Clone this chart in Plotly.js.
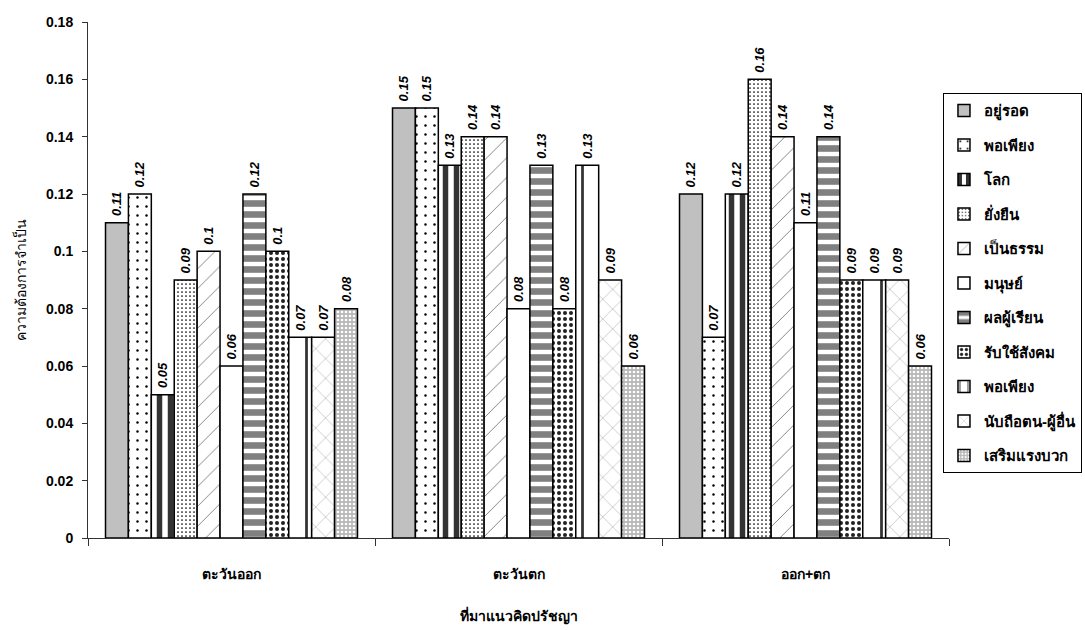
<!DOCTYPE html>
<html>
<head>
<meta charset="utf-8">
<script src="https://cdn.plot.ly/plotly-3.0.1.min.js"></script>
<style>html,body{margin:0;padding:0;background:#fff;}#chart{width:1085px;height:630px;}</style>
</head>
<body>
<div id="chart"></div>
<script>
const categories = ['ตะวันออก', 'ตะวันตก', 'ออก+ตก'];
const seriesNames = ['อยู่รอด', 'พอเพียง', 'โลก', 'ยั่งยืน', 'เป็นธรรม', 'มนุษย์', 'ผลผู้เรียน', 'รับใช้สังคม', 'พอเพียง', 'นับถือตน-ผู้อื่น', 'เสริมแรงบวก'];
const vSurvive   = [0.11, 0.15, 0.12];
const vSuff1     = [0.12, 0.15, 0.07];
const vWorld     = [0.05, 0.13, 0.12];
const vSustain   = [0.09, 0.14, 0.16];
const vFair      = [0.1, 0.14, 0.14];
const vHuman     = [0.06, 0.08, 0.11];
const vLearner   = [0.12, 0.13, 0.14];
const vService   = [0.1, 0.08, 0.09];
const vSuff2     = [0.07, 0.13, 0.09];
const vRespect   = [0.07, 0.09, 0.09];
const vPositive  = [0.08, 0.06, 0.06];
const seriesValues = [vSurvive, vSuff1, vWorld, vSustain, vFair, vHuman, vLearner, vService, vSuff2, vRespect, vPositive];

const styles = [
  {color: '#c0c0c0', pattern: {shape: ''}},
  {color: 'white', pattern: {shape: '.', fgcolor: 'black', bgcolor: 'white', size: 9, solidity: 0.06, fillmode: 'replace'}},
  {color: 'white', pattern: {shape: '|', fgcolor: '#333333', bgcolor: 'white', size: 11, solidity: 0.5, fillmode: 'replace'}},
  {color: 'white', pattern: {shape: '.', fgcolor: 'black', bgcolor: 'white', size: 4, solidity: 0.15, fillmode: 'replace'}},
  {color: 'white', pattern: {shape: '/', fgcolor: '#555555', bgcolor: 'white', size: 14, solidity: 0.05, fillmode: 'replace'}},
  {color: 'white', pattern: {shape: ''}},
  {color: 'white', pattern: {shape: '-', fgcolor: '#808080', bgcolor: 'white', size: 11, solidity: 0.6, fillmode: 'replace'}},
  {color: 'white', pattern: {shape: '.', fgcolor: '#222222', bgcolor: 'white', size: 6, solidity: 0.35, fillmode: 'replace'}},
  {color: 'white', pattern: {shape: '|', fgcolor: '#333333', bgcolor: 'white', size: 23, solidity: 0.12, fillmode: 'replace'}},
  {color: 'white', pattern: {shape: 'x', fgcolor: '#bbbbbb', bgcolor: 'white', size: 14, solidity: 0.1, fillmode: 'replace'}},
  {color: '#b8b8b8', pattern: {shape: '.', fgcolor: 'white', bgcolor: '#b8b8b8', size: 4, solidity: 0.35, fillmode: 'replace'}}
];

const FONT = 'Liberation Sans, Arial, sans-serif';

const traces = seriesNames.map((name, i) => ({
  type: 'bar',
  name: name,
  legendgroup: 'g' + i,
  x: categories,
  y: seriesValues[i],
  texttemplate: '\u00a0%{y}',
  textposition: 'outside',
  textangle: -90,
  constraintext: 'none',
  cliponaxis: false,
  textfont: {family: FONT, size: 13, color: 'black', weight: 'bold', style: 'italic'},
  marker: {color: styles[i].color, pattern: styles[i].pattern, line: {color: 'black', width: 1.5}},
  hoverinfo: 'skip'
}));

const layout = {
  width: 1085, height: 630,
  margin: {l: 88, r: 136, t: 22, b: 92, autoexpand: false},
  paper_bgcolor: 'white', plot_bgcolor: 'white',
  barmode: 'group', bargap: 0.122, bargroupgap: 0,
  font: {family: FONT, color: 'black', size: 14},
  showlegend: true,
  xaxis: {
    type: 'category', showline: true, linecolor: '#333', linewidth: 1,
    ticks: 'outside', tickson: 'boundaries', ticklen: 7, tickcolor: '#333',
    tickfont: {family: FONT, size: 14, weight: 'bold'}, ticklabelstandoff: 23,
    showgrid: false, automargin: false,
    title: {text: 'ที่มาแนวคิดปรัชญา', font: {family: FONT, size: 14, weight: 'bold'}, standoff: 30}
  },
  yaxis: {
    range: [0, 0.18], tick0: 0, dtick: 0.02, showline: true, linecolor: '#333', linewidth: 1,
    ticks: 'outside', ticklen: 5, tickcolor: '#333', showgrid: false, zeroline: false,
    tickfont: {family: FONT, size: 14, weight: 'bold'}, ticklabelstandoff: 6, automargin: false,
    title: {text: 'ความต้องการจำเป็น', font: {family: FONT, size: 14}, standoff: 16}
  },
  legend: {
    x: 0.993, xanchor: 'left', y: 0.862, yanchor: 'top',
    bordercolor: 'black', borderwidth: 1, bgcolor: 'white',
    font: {family: FONT, size: 15, weight: 'bold', color: 'black'},
    tracegroupgap: 12, traceorder: 'grouped'
  }
};

Plotly.newPlot('chart', traces, layout, {displayModeBar: false, staticPlot: true});
</script>
</body>
</html>
